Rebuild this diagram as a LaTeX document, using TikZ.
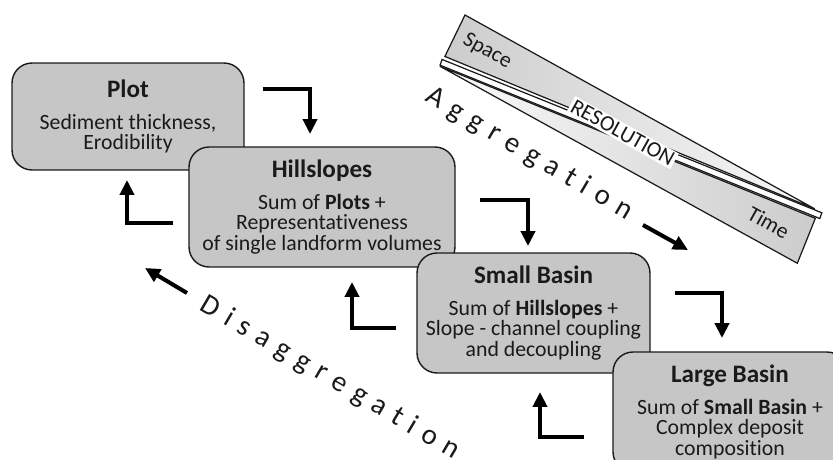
\documentclass[tikz,border=0pt]{standalone}
\usepackage{fontspec}
\setmainfont{Carlito}[RawFeature={-liga}]
\newfontfamily\spacedfont{Carlito}[LetterSpace=32,RawFeature={-liga}]
\usepackage{xcolor}
\usepackage{tikz}
\usetikzlibrary{positioning}
\usetikzlibrary{arrows.meta}
\definecolor{boxgray}{HTML}{C6C6C6}
\definecolor{inkgray}{HTML}{1A1A1A}
\newcommand{\bodyfont}{\fontsize{12.4}{11.7}\selectfont\lineskiplimit=-20pt}
\newcommand{\titlefont}{\fontsize{14.3}{14}\selectfont\bfseries}
\tikzset{%
  scale box/.style={
    rectangle,
    rounded corners=0.4cm,
    draw=inkgray,
    line width=0.8pt,
    fill=boxgray,
    text=inkgray,
    align=center,
    font=\bodyfont,
    inner sep=0pt
  },
  bar part/.style={
    draw=inkgray,
    line width=0.7pt
  },
}

\begin{document}
\begin{tikzpicture}[x=0.02cm, y=-0.02cm]
      \tikzstyle{flow} = [draw, -{Triangle[length=8.5pt,width=8pt]}, line width=2.3pt]
      \tikzstyle{trend} = [text=inkgray, font=\spacedfont\fontsize{16.5}{16}\selectfont, rotate=-30.5]
      \useasboundingbox (0,0) rectangle (833,460);
      \clip (0,0) rectangle (833,460);

      % Resolution bar
      \begin{scope}[shift={(465,15)}, rotate=-29]
        \shade[bar part, left color=gray!40, right color=gray!5] (0,0) -- (400,0) -- (2.5,46) -- cycle;
        \draw[bar part, fill=white] (1.5,50) -- (408,0) -- (409,6) -- (2.5,56) -- cycle;
        \shade[bar part, left color=gray!4, right color=gray!40] (3,57) -- (405,8) -- (411,56) -- cycle;
        \node[text=inkgray, font=\bodyfont, rotate=-29] (space) at (37,21) {Space};
        \node[text=inkgray, font=\bodyfont, rotate=-29] (time) at (366,34) {Time};
        \node[text=inkgray, font=\fontsize{12.5}{12}\selectfont, fill=white, inner sep=1pt, rotate=-29] (resolution) at (195,26.5) {RESOLUTION};
      \end{scope}

      % Plot
      \def\plot{Plot}
      \node[scale box, minimum width=4.64cm, minimum height=2.14cm] (\plot) at (128,116.5)
        {{\titlefont Plot}\\[6.4pt] Sediment thickness,\\ Erodibility};

      % Hillslopes
      \def\hill{Hillslopes}
      \node[scale box, minimum width=5.32cm, minimum height=2.4cm] (\hill) at (322,207)
        {{\titlefont Hillslopes}\\[6.4pt] Sum of \textbf{Plots} +\\ Representativeness\\ of single landform volumes};

      % Small basin
      \def\smallbasin{SmallBasin}
      \node[scale box, minimum width=4.66cm, minimum height=2.4cm] (\smallbasin) at (533.5,313)
        {{\titlefont Small Basin}\\[6.4pt] Sum of \textbf{Hillslopes} +\\ Slope - channel coupling\\ and decoupling};

      % Large basin
      \def\largebasin{LargeBasin}
      \node[scale box, minimum width=4.68cm, minimum height=2.4cm] (\largebasin) at (730,412)
        {{\titlefont Large Basin}\\[6.4pt] Sum of \textbf{Small Basin} +\\ Complex deposit\\ composition};

      % step arrows between the scales
      \coordinate (plot-down-a) at (263,89);
      \coordinate (plot-down-b) at (310,134);
      \coordinate (hill-up-a) at (173,223);
      \coordinate (hill-up-b) at (127,180);
      \coordinate (hill-down-a) at (480,200);
      \coordinate (hill-down-b) at (528,246);
      \coordinate (small-up-a) at (396,328);
      \coordinate (small-up-b) at (352,282);
      \coordinate (small-down-a) at (675,293);
      \coordinate (small-down-b) at (722,338);
      \coordinate (large-up-a) at (584,437);
      \coordinate (large-up-b) at (540,392);
      \path[flow] (plot-down-a) -| (plot-down-b);
      \path[flow] (hill-up-a) -| (hill-up-b);
      \path[flow] (hill-down-a) -| (hill-down-b);
      \path[flow] (small-up-a) -| (small-up-b);
      \path[flow] (small-down-a) -| (small-down-b);
      \path[flow] (large-up-a) -| (large-up-b);

      % Aggregation / Disaggregation
      \node[trend] (aggregation) at (529,154) {Aggregation};
      \node[trend] (disaggregation) at (330,378) {Disaggregation};
      \coordinate (agg-a) at (643,225);
      \coordinate (agg-b) at (688,250);
      \coordinate (dis-a) at (187,293);
      \coordinate (dis-b) at (145,268);
      \path[flow] (agg-a) -- (agg-b);
      \path[flow] (dis-a) -- (dis-b);
\end{tikzpicture}
\end{document}
